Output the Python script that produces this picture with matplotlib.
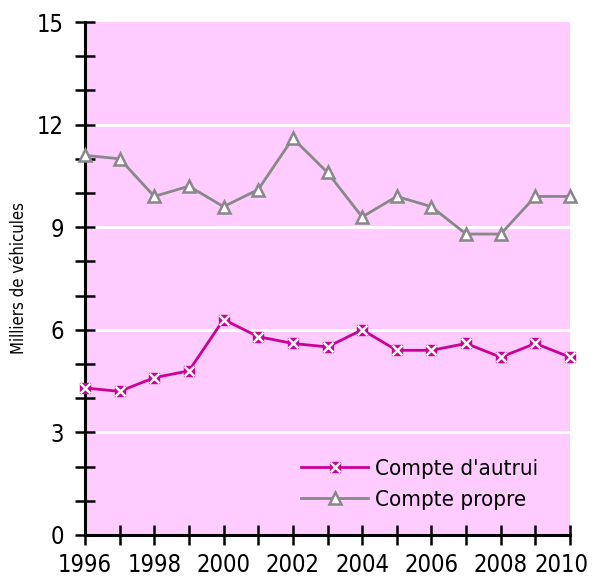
import numpy as np
import matplotlib
matplotlib.use('Agg')
import matplotlib.pyplot as plt
import matplotlib.transforms as mtransforms
from matplotlib import font_manager
from matplotlib.ticker import MultipleLocator

# Données
annees = [1996, 1997, 1998, 1999, 2000, 2001, 2002, 2003, 2004, 2005, 2006, 2007, 2008, 2009, 2010]
compte_autrui = [4.3, 4.2, 4.6, 4.8, 6.3, 5.8, 5.6, 5.5, 6.0, 5.4, 5.4, 5.6, 5.2, 5.6, 5.2]
compte_propre = [11.1, 11.0, 9.9, 10.2, 9.6, 10.1, 11.6, 10.6, 9.3, 9.9, 9.6, 8.8, 8.8, 9.9, 9.9]
x_ticks = [1996, 1998, 2000, 2002, 2004, 2006, 2008, 2010]
y_ticks = [0, 3, 6, 9, 12, 15]

# Chercher une police étroite si elle existe
etroite = None
for f in font_manager.fontManager.ttflist:
    st = str(f.stretch).lower()
    if ('condensed' in st or 'narrow' in f.name.lower() or 'condensed' in f.name.lower()) \
            and f.style == 'normal':
        etroite = f
        break

if etroite is not None:
    famille = [etroite.name, 'DejaVu Sans']
    plt.rcParams['font.stretch'] = etroite.stretch
    t_tick, t_leg, t_ylab = 17, 16, 12
else:
    famille = ['Liberation Sans', 'DejaVu Sans']
    t_tick, t_leg, t_ylab = 16, 15, 10.5
plt.rcParams['font.family'] = famille

fig = plt.figure(figsize=(5.96, 5.79), dpi=100)
ax = fig.add_axes([85/596, 44/579, 485/596, 513/579])
ax.set_facecolor('#FFCCFF')

magenta = '#CC0099'
gris = '#888888'

# Lignes de grille blanches
for v in [3, 6, 9, 12]:
    ax.axhline(v, color='white', lw=2, zorder=1)

ax.plot(annees, compte_autrui, color=magenta, lw=2, zorder=3, clip_on=False)
ax.plot(annees, compte_autrui, ls='none', marker='s', ms=7, color=magenta, zorder=4, clip_on=False)
ax.plot(annees, compte_autrui, ls='none', marker='x', ms=7, mew=1.8, color='white', zorder=5, clip_on=False)

ax.plot(annees, compte_propre, color=gris, lw=2, zorder=3, clip_on=False,
        marker='^', ms=9, mfc='white', mec=gris, mew=1.8)

ax.set_xlim(1996, 2010)
ax.set_ylim(0, 15)
ax.set_xticks(x_ticks)
ax.xaxis.set_minor_locator(MultipleLocator(1))
ax.set_yticks(y_ticks)
ax.yaxis.set_minor_locator(MultipleLocator(1))

ax.tick_params(axis='both', which='both', direction='inout', width=1.8, color='black')
ax.tick_params(axis='both', which='major', length=14, labelsize=t_tick)
ax.tick_params(axis='both', which='minor', length=14)
ax.tick_params(axis='y', pad=8)
ax.tick_params(axis='x', pad=6)

for s in ['top', 'right']:
    ax.spines[s].set_visible(False)
for s in ['left', 'bottom']:
    ax.spines[s].set_linewidth(2.2)

# Décaler le dernier libellé (2010) vers la gauche pour qu'il reste dans l'image
fig.canvas.draw()
dernier = ax.get_xticklabels()[-1]
dernier.set_transform(dernier.get_transform() +
                      mtransforms.ScaledTranslation(-8/100, 0, fig.dpi_scale_trans))

ax.set_ylabel('Milliers de véhicules', fontsize=t_ylab)
ax.yaxis.set_label_coords(-0.117, 0.5)

# Légende
h1 = (plt.Line2D([], [], color=magenta, lw=2),
      plt.Line2D([], [], ls='none', marker='s', ms=7, color=magenta),
      plt.Line2D([], [], ls='none', marker='x', ms=7, mew=1.8, color='white'))
h2 = plt.Line2D([], [], color=gris, lw=2, marker='^', ms=9, mfc='white', mec=gris, mew=1.8)
ax.legend([h1, h2], ["Compte d'autrui", 'Compte propre'], loc='lower right',
          bbox_to_anchor=(0.975, 0.01), frameon=False, fontsize=t_leg,
          handlelength=3.0, handletextpad=0.3, labelspacing=0.5)

fig.savefig('out.png', dpi=100)
